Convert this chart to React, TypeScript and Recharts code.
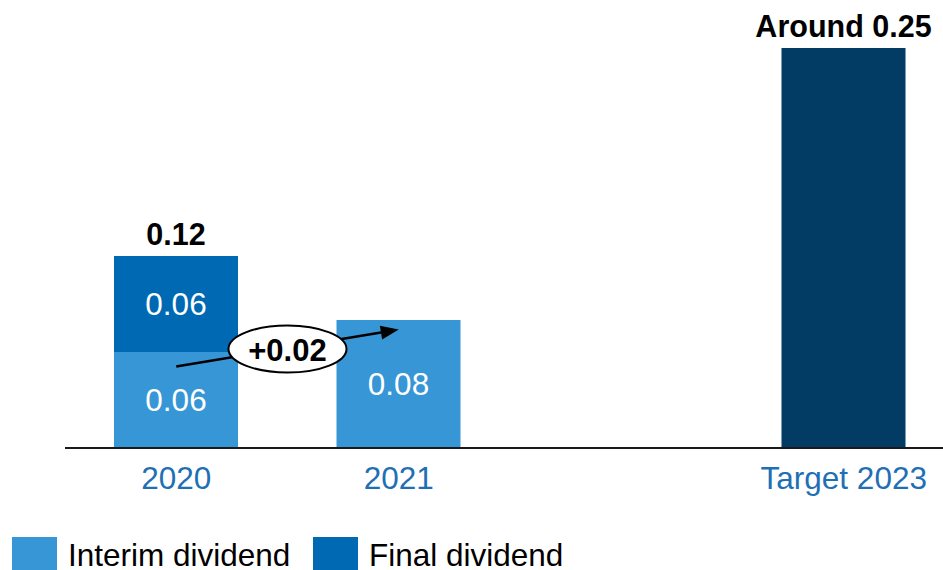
import React from 'react';
import { BarChart, Bar, XAxis, YAxis, LabelList, Legend, ReferenceLine } from 'recharts';

const categories = ['2020', '2021', '', 'Target 2023'];
const interim = [0.06, 0.08, null, null];
const finalDiv = [0.06, null, null, null];
const target = [null, null, null, 0.25];
const totalLabels = ['0.12', '', '', 'Around 0.25'];

// arrow showing the step from 2020 to 2021
const arrowFrom = { x: '2020', y: 0.051 };
const arrowTo = { x: '2021', y: 0.074 };
const arrowLabel = '+0.02';

const legendNames = ['Interim dividend', 'Final dividend'];
const legendColors = ['#3796D5', '#0069B4'];

const FONT = '"Liberation Sans", Arial, sans-serif';

const data = categories.map((name, i) => ({
  name,
  interim: interim[i],
  final: finalDiv[i],
  target: target[i],
  total: totalLabels[i],
}));

const fmt = (v: any) => (v == null ? '' : Number(v).toFixed(2));

const XTick = ({ x, y, payload }: any) => (
  <text x={x} y={y} dy={41} textAnchor="middle" fill="#1F6FB5" fontSize={31.5} fontFamily={FONT}>
    {payload.value}
  </text>
);

const ArrowShape = (props: any) => {
  const { x1, y1, x2, y2 } = props;
  if ([x1, y1, x2, y2].some((v) => v == null || isNaN(v))) return null;
  const ang = Math.atan2(y2 - y1, x2 - x1);
  const headLen = 18;
  const headW = 7;
  const bx = x2 - headLen * Math.cos(ang);
  const by = y2 - headLen * Math.sin(ang);
  const px = -Math.sin(ang) * headW;
  const py = Math.cos(ang) * headW;
  const cx = (x1 + x2) / 2;
  const cy = (y1 + y2) / 2;
  return (
    <g>
      <line x1={x1} y1={y1} x2={bx} y2={by} stroke="#000" strokeWidth={2.5} />
      <polygon points={`${x2},${y2} ${bx + px},${by + py} ${bx - px},${by - py}`} fill="#000" />
      <ellipse cx={cx} cy={cy + 1} rx={59} ry={23.5} fill="#fff" stroke="#000" strokeWidth={2} />
      <text x={cx} y={cy + 13} textAnchor="middle" fontSize={31} fontWeight="bold" fontFamily={FONT} fill="#000">
        {arrowLabel}
      </text>
    </g>
  );
};

const legendLefts = [0, 301];

const LegendContent = () => (
  <div style={{ position: 'relative', height: 45, fontFamily: FONT, fontSize: 31.5, color: '#000' }}>
    {legendNames.map((n, i) => (
      <div key={n} style={{ position: 'absolute', left: legendLefts[i], top: 0, display: 'flex', alignItems: 'flex-start' }}>
        <div style={{ width: 45, height: 45, background: legendColors[i], marginRight: 11 }} />
        <span style={{ lineHeight: '31px', marginTop: 3, whiteSpace: 'nowrap' }}>{n}</span>
      </div>
    ))}
  </div>
);

export default function App() {
  return (
    <div style={{ position: 'absolute', left: 0, top: 0, width: 943, height: 570, overflow: 'hidden', background: '#fff' }}>
      <BarChart
        width={960}
        height={600}
        data={data}
        margin={{ top: 48, right: 5, bottom: 112, left: 65 }}
        barSize={124}
      >
        <XAxis
          dataKey="name"
          tickLine={false}
          tickSize={0}
          tickMargin={0}
          axisLine={{ stroke: '#1a1a1a', strokeWidth: 2 }}
          tick={<XTick />}
          height={40}
          interval={0}
        />
        <YAxis hide domain={[0, 0.25]} />
        <Legend
          verticalAlign="middle"
          layout="horizontal"
          content={<LegendContent />}
          wrapperStyle={{ left: 12, top: 537, width: 700 }}
        />
        <Bar dataKey="interim" stackId="a" fill={legendColors[0]} isAnimationActive={false}>
          <LabelList dataKey="interim" position="center" fill="#fff" fontSize={31.5} fontFamily={FONT} formatter={fmt} />
        </Bar>
        <Bar dataKey="final" stackId="a" fill={legendColors[1]} isAnimationActive={false}>
          <LabelList dataKey="final" position="center" fill="#fff" fontSize={31.5} fontFamily={FONT} formatter={fmt} />
          <LabelList dataKey="total" position="top" offset={11} fill="#000" fontSize={30.5} fontWeight="bold" fontFamily={FONT} />
        </Bar>
        <Bar dataKey="target" stackId="a" fill="#023B64" isAnimationActive={false}>
          <LabelList dataKey="total" position="top" offset={11} fill="#000" fontSize={30.5} fontWeight="bold" fontFamily={FONT} />
        </Bar>
        <ReferenceLine segment={[arrowFrom, arrowTo]} shape={<ArrowShape />} />
      </BarChart>
    </div>
  );
}
